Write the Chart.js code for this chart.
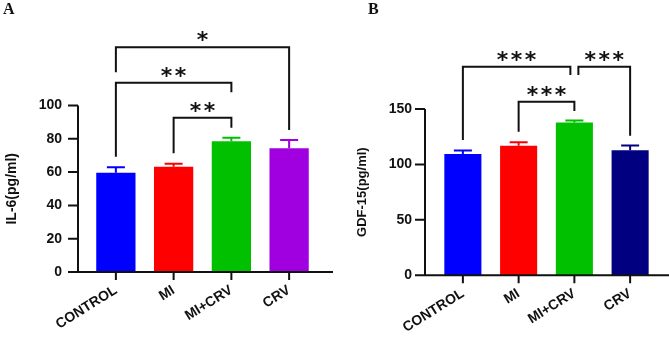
<!DOCTYPE html>
<html>
<head>
<meta charset="utf-8">
<script src="https://cdn.jsdelivr.net/npm/chart.js@4/dist/chart.umd.min.js"></script>
<style>
  html, body { margin: 0; padding: 0; background: #fff; }
  #wrap { position: relative; width: 669px; height: 337px; overflow: hidden; }
  .panel { position: absolute; top: 0; height: 337px; }
  .tag { position: absolute; font: bold 16px "Liberation Serif"; line-height: 16px; color: #111; }
</style>
</head>
<body>
<div id="wrap">
  <div class="panel" style="left:0;width:335px"><canvas id="chartA" width="335" height="337"></canvas></div>
  <div class="panel" style="left:335px;width:334px"><canvas id="chartB" width="334" height="337"></canvas></div>
  <div class="tag" style="left:3px;top:1px">A</div>
  <div class="tag" style="left:368px;top:1px">B</div>
</div>
<script>
const groups = ['CONTROL', 'MI', 'MI+CRV', 'CRV']

const il6Mean = [59.6, 63.2, 78.5, 74.3]
const il6Sem = [3.3, 1.8, 2.2, 5.0]
const il6Ticks = [0, 20, 40, 60, 80, 100]

const gdf15Mean = [109.3, 116.8, 137.9, 112.9]
const gdf15Sem = [3.3, 3.3, 1.8, 4.1]
const gdf15Ticks = [0, 50, 100, 150]

// comparisons: [from, to, bracket level, left leg end, right leg end, stars]
const il6Sig = [
  [0, 3, 135, 120, 85.3, '*'],
  [0, 2, 113.7, 69.2, 107.9, '**'],
  [1, 2, 92.7, 71.3, 86.7, '**'],
]
const gdf15Sig = [
  [0, 2, 188.2, 122, 180.7, '***'],
  [2, 3, 188.2, 180.7, 125.9, '***'],
  [1, 2, 156.6, 129.5, 148.2, '***'],
]

const colorsA = ['#0000ff', '#ff0000', '#00c000', '#a000e0']
const colorsB = ['#0000ff', '#ff0000', '#00c000', '#000080']
const FONT = '"Liberation Sans", Arial, sans-serif'
const INK = '#111'

function decor(sig, sem, colors, opt) {
  return {
    id: 'decor',
    afterDatasetsDraw(chart) {
      const { ctx, scales: { x, y } } = chart
      const meta = chart.getDatasetMeta(0)
      const values = chart.data.datasets[0].data
      const axisX = chart.chartArea.left - opt.axisGap
      const y0 = y.getPixelForValue(0)
      ctx.save()

      // error bars (upper half only)
      ctx.lineWidth = 2
      meta.data.forEach((bar, i) => {
        const top = y.getPixelForValue(values[i] + sem[i])
        ctx.strokeStyle = colors[i]
        ctx.beginPath()
        ctx.moveTo(bar.x, bar.y)
        ctx.lineTo(bar.x, top)
        ctx.moveTo(bar.x - 9, top)
        ctx.lineTo(bar.x + 9, top)
        ctx.stroke()
      })

      // axes
      ctx.strokeStyle = INK
      ctx.lineWidth = 2
      ctx.beginPath()
      ctx.moveTo(axisX, y.getPixelForValue(y.max))
      ctx.lineTo(axisX, y0)
      ctx.lineTo(opt.axisEnd, y0)
      y.ticks.forEach(t => {
        const py = y.getPixelForValue(t.value)
        ctx.moveTo(axisX - 10, py)
        ctx.lineTo(axisX, py)
      })
      groups.forEach((g, i) => {
        const px = x.getPixelForTick(i)
        ctx.moveTo(px, y0)
        ctx.lineTo(px, y0 + 8)
      })
      ctx.stroke()

      // significance brackets
      ctx.font = 'bold 22px "DejaVu Sans"'
      ctx.textAlign = 'center'
      ctx.fillStyle = INK
      const m = ctx.measureText('*')
      const mid = (m.actualBoundingBoxAscent - m.actualBoundingBoxDescent) / 2
      sig.forEach(([a, b, level, legA, legB, stars]) => {
        let xa = x.getPixelForTick(a)
        let xb = x.getPixelForTick(b)
        // leave a small gap where two brackets meet at the same level
        if (sig.some(s => s !== undefined && s[2] === level && s[0] === b && s[1] !== b)) xb -= 4
        if (sig.some(s => s[2] === level && s[1] === a && s[0] !== a)) xa += 4
        const py = y.getPixelForValue(level)
        ctx.beginPath()
        ctx.moveTo(xa, y.getPixelForValue(legA))
        ctx.lineTo(xa, py)
        ctx.lineTo(xb, py)
        ctx.lineTo(xb, y.getPixelForValue(legB))
        ctx.stroke()
        const cx = (xa + xb) / 2
        const n = stars.length
        for (let k = 0; k < n; k++) {
          ctx.fillText('*', cx + (k - (n - 1) / 2) * 14, py - 11 + mid)
        }
      })
      ctx.restore()
    },
  }
}

function makeChart(id, opt) {
  return new Chart(document.getElementById(id), {
    type: 'bar',
    data: {
      labels: groups,
      datasets: [{
        data: opt.values,
        backgroundColor: opt.colors,
        borderWidth: 0,
        barPercentage: opt.barPct,
        categoryPercentage: 1,
      }],
    },
    options: {
      responsive: false,
      animation: false,
      layout: { padding: { left: 0, top: opt.top, right: opt.right, bottom: 0 } },
      plugins: { legend: { display: false }, tooltip: { enabled: false } },
      scales: {
        x: {
          grid: { display: false, drawTicks: false },
          border: { display: false },
          ticks: {
            color: INK,
            font: { family: FONT, size: 14, weight: 'bold' },
            minRotation: 32,
            maxRotation: 32,
            padding: 10,
            autoSkip: false,
          },
          afterFit: s => { s.height = opt.xHeight },
        },
        y: {
          min: 0,
          max: opt.ticks[opt.ticks.length - 1],
          grid: { display: false, drawTicks: false },
          border: { display: false },
          afterBuildTicks: s => { s.ticks = opt.ticks.map(v => ({ value: v })) },
          ticks: {
            color: INK,
            font: { family: FONT, size: 14, weight: 'bold' },
            padding: opt.tickPad,
          },
          title: {
            display: true,
            text: opt.title,
            color: INK,
            font: { family: FONT, size: opt.titleSize, weight: 'bold' },
            padding: { top: opt.titlePad, bottom: 0 },
          },
          afterFit: s => { s.width = opt.yWidth },
        },
      },
    },
    plugins: [decor(opt.sig, opt.sem, opt.colors, opt)],
  })
}

makeChart('chartA', {
  values: il6Mean, sem: il6Sem, ticks: il6Ticks, sig: il6Sig, colors: colorsA,
  title: 'IL-6(pg/ml)', titleSize: 14, titlePad: 4,
  top: 105.5, right: 17, xHeight: 65, yWidth: 87, tickPad: 25,
  axisGap: 9, axisEnd: 333, barPct: 0.68,
})

makeChart('chartB', {
  values: gdf15Mean, sem: gdf15Sem, ticks: gdf15Ticks, sig: gdf15Sig, colors: colorsB,
  title: 'GDF-15(pg/ml)', titleSize: 13, titlePad: 20,
  top: 109, right: 11, xHeight: 61.7, yWidth: 100, tickPad: 23,
  axisGap: 10, axisEnd: 334, barPct: 0.665,
})
</script>
</body>
</html>
